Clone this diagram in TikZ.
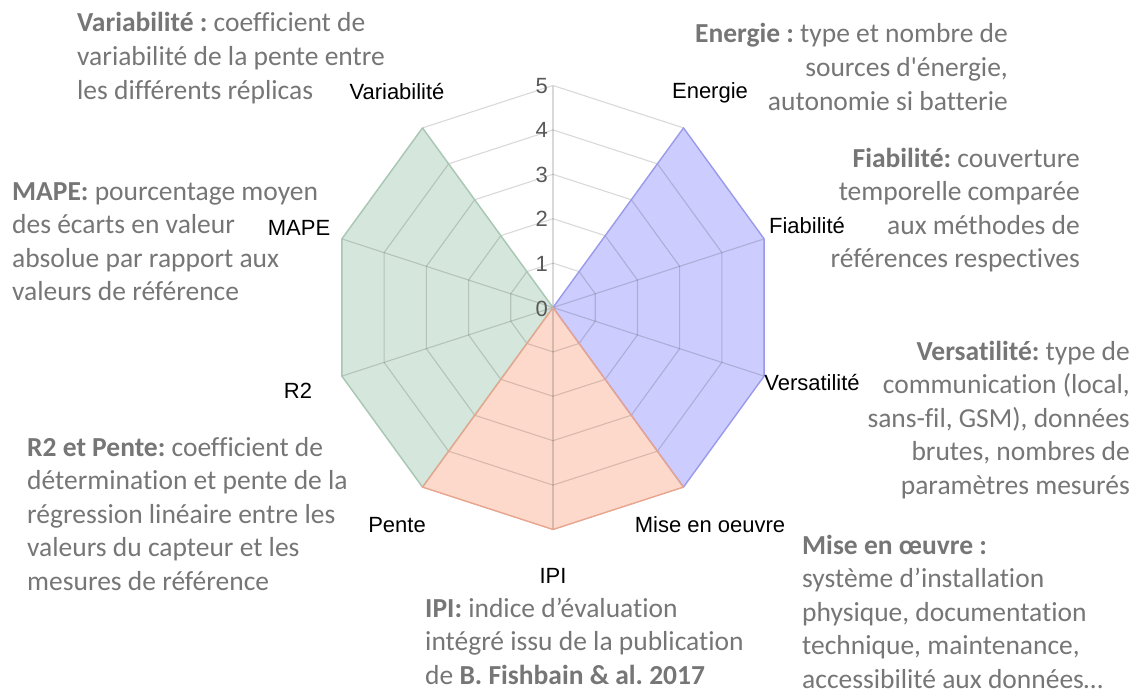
\documentclass[tikz,border=0pt]{standalone}
\usepackage{fontspec}
\newfontfamily\descfont[Ligatures={TeX,NoCommon}]{Carlito}
\newfontfamily\axfont{Liberation Sans}
\frenchspacing
\definecolor{txtgray}{RGB}{118,118,118}
\definecolor{scalegray}{RGB}{89,89,89}
\definecolor{gfillc}{RGB}{213,230,220}
\definecolor{glinec}{RGB}{168,200,180}
\definecolor{bfillc}{RGB}{204,204,254}
\definecolor{blinec}{RGB}{154,154,238}
\definecolor{ofillc}{RGB}{253,217,203}
\definecolor{olinec}{RGB}{235,165,140}
\tikzset{
  desc/.style={font=\descfont\fontsize{27.5}{33.5}\selectfont, text=txtgray, inner sep=0pt},
  axlabel/.style={font=\axfont\fontsize{22}{26}\selectfont, text=black, inner sep=0pt, anchor=base},
  scalelabel/.style={font=\axfont\fontsize{22}{26}\selectfont, text=scalegray, inner sep=0pt, anchor=base east},
  gridline/.style={draw=black, draw opacity=0.15, line width=1.1pt},
}
\begin{document}
\begin{tikzpicture}[x=1pt, y=-1pt]
\useasboundingbox (0,0) rectangle (1137,693);
\fill[white] (0,0) rectangle (1137,693);

\begin{scope}[shift={(553,307.5)}, y=1pt]
  \foreach \i in {0,...,9} \coordinate (v\i) at ({90-36*\i}:222);
  \coordinate (c) at (0,0);
  % filled areas
  \fill[gfillc] (c) -- (v9) -- (v8) -- (v7) -- (v6) -- cycle;
  \fill[bfillc] (c) -- (v1) -- (v2) -- (v3) -- (v4) -- cycle;
  \fill[ofillc] (c) -- (v6) -- (v5) -- (v4) -- cycle;
  % grid
  \foreach \k in {1,...,5}
    \draw[gridline] (90:{44.4*\k}) -- (54:{44.4*\k}) -- (18:{44.4*\k}) -- (-18:{44.4*\k}) -- (-54:{44.4*\k}) -- (-90:{44.4*\k}) -- (-126:{44.4*\k}) -- (-162:{44.4*\k}) -- (-198:{44.4*\k}) -- (-234:{44.4*\k}) -- cycle;
  \foreach \i in {0,...,9} \draw[gridline] (c) -- (v\i);
  % borders
  \draw[glinec, line width=1.3pt, line join=round] (c) -- (v9) -- (v8) -- (v7) -- (v6) -- cycle;
  \draw[blinec, line width=1.3pt, line join=round] (c) -- (v1) -- (v2) -- (v3) -- (v4) -- cycle;
  \draw[olinec, line width=1.3pt, line join=round] (c) -- (v6) -- (v5) -- (v4) -- cycle;
\end{scope}

% scale labels
\node[scalelabel] (s0) at (548,316) {0};
\node[scalelabel] (s1) at (548,271.1) {1};
\node[scalelabel] (s2) at (548,226.7) {2};
\node[scalelabel] (s3) at (548,182.3) {3};
\node[scalelabel] (s4) at (548,137.9) {4};
\node[scalelabel] (s5) at (548,93.5) {5};

% axis labels
\node[axlabel] (lvar) at (397,99) {Variabilité};
\node[axlabel] (lene) at (710,98) {Energie};
\node[axlabel] (lfia) at (807,233) {Fiabilité};
\node[axlabel] (lver) at (812,390) {Versatilité};
\node[axlabel] (lmis) at (710,532) {Mise en oeuvre};
\node[axlabel] (lipi) at (553,583) {IPI};
\node[axlabel] (lpen) at (397,532) {Pente};
\node[axlabel] (lr2) at (298,398) {R2};
\node[axlabel] (lmap) at (299,235) {MAPE};

% descriptions (anchor = baseline of the last line)
\node[desc, align=left, anchor=base west] (dvar) at (77,99)
  {\textbf{Variabilité :} coefficient de\\variabilité de la pente entre\\les différents réplicas};
\node[desc, align=left, anchor=base west] (dmap) at (12,300.5)
  {\textbf{MAPE:} pourcentage moyen\\des écarts en valeur\\absolue par rapport aux\\valeurs de référence};
\node[desc, align=left, anchor=base west] (dr2) at (27,590)
  {\textbf{R2 et Pente:} coefficient de\\détermination et pente de la\\régression linéaire entre les\\valeurs du capteur et les\\mesures de référence};
\node[desc, align=right, anchor=base east] (dene) at (1008,110)
  {\textbf{Energie :} type et nombre de\\sources d\textquotesingle énergie,\\autonomie si batterie};
\node[desc, align=right, anchor=base east] (dfia) at (1080,267.5)
  {\textbf{Fiabilité:} couverture\\temporelle comparée\\aux méthodes de\\références respectives};
\node[desc, align=right, anchor=base east] (dver) at (1130,494)
  {\textbf{Versatilité:} type de\\communication (local,\\sans-fil, GSM), données\\brutes, nombres de\\paramètres mesurés};
\node[desc, align=left, anchor=base west] (dmis) at (802,688)
  {\textbf{Mise en œuvre :}\\système d’installation\\physique, documentation\\technique, maintenance,\\accessibilité aux données…};
\node[desc, align=left, anchor=base west] (dipi) at (425,684)
  {\textbf{IPI:} indice d’évaluation\\intégré issu de la publication\\de \textbf{B. Fishbain \& al. 2017}};
\end{tikzpicture}
\end{document}
